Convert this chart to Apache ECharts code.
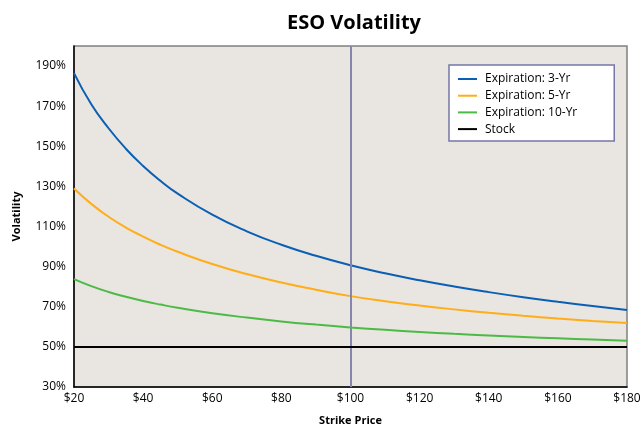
<!DOCTYPE html>
<html>
<head>
<meta charset="utf-8">
<script src="https://cdn.jsdelivr.net/npm/echarts@6/dist/echarts.min.js"></script>
<style>html,body{margin:0;padding:0;background:#fff}#c{width:644px;height:427px}</style>
</head>
<body>
<div id="c"></div>
<script>
var strikes = [20, 25, 30, 35, 40, 45, 50, 60, 70, 80, 90, 100, 110, 120, 130, 140, 150, 160, 170, 180];
var vol3 = [186.5, 171, 159, 148.8, 140.2, 132.8, 126.4, 115.9, 107.6, 100.9, 95.4, 90.7, 86.7, 83.2, 80.1, 77.3, 74.75, 72.45, 70.35, 68.4];
var vol5 = [129, 121.3, 114.9, 109.5, 105, 100.9, 97.4, 91.3, 86.3, 82.1, 78.5, 75.3, 72.8, 70.6, 68.7, 67.0, 65.5, 64.15, 62.95, 61.85];
var vol10 = [83.8, 80.3, 77.4, 75, 72.9, 71.1, 69.5, 66.8, 64.6, 62.7, 61.1, 59.7, 58.5, 57.45, 56.52, 55.69, 54.94, 54.26, 53.64, 53.06];
var stock = [50, 50, 50, 50, 50, 50, 50, 50, 50, 50, 50, 50, 50, 50, 50, 50, 50, 50, 50, 50];
var seriesNames = ['Expiration: 3-Yr', 'Expiration: 5-Yr', 'Expiration: 10-Yr', 'Stock'];
var seriesColors = ['#0a5fb4', '#ffad18', '#4cbb45', '#000000'];
var markStrike = 100;

function pairs(v) { return strikes.map(function (s, i) { return [s, v[i]]; }); }
var values = [vol3, vol5, vol10, stock];
var font = '"Open Sans", "Noto Sans", sans-serif';

var series = values.map(function (v, i) {
  var s = {
    name: seriesNames[i], type: 'line', data: pairs(v), smooth: i < 3 ? 0.5 : false,
    symbol: 'none', lineStyle: { color: seriesColors[i], width: 2 },
    itemStyle: { color: seriesColors[i] }, z: 3 + i
  };
  if (i === 0) {
    s.markLine = {
      silent: true, symbol: 'none', label: { show: false },
      lineStyle: { color: '#8585ad', width: 2, type: 'solid' },
      data: [{ xAxis: markStrike }]
    };
  }
  return s;
});

var chart = echarts.init(document.getElementById('c'));
chart.setOption({
  animation: false,
  backgroundColor: '#ffffff',
  title: {
    text: 'ESO Volatility', left: 282, top: 8,
    textStyle: { fontFamily: font, fontWeight: 'bold', fontSize: 20, color: '#000' }
  },
  grid: {
    left: 74, right: 17, top: 46, bottom: 40, outerBoundsMode: 'none', containLabel: false,
    show: true, backgroundColor: '#e9e5e0', borderColor: '#808080', borderWidth: 1.5
  },
  legend: {
    orient: 'vertical', left: 449, top: 65,
    padding: [8, 37, 6, 9], itemGap: 4.7,
    backgroundColor: '#ffffff', borderColor: '#7676a8', borderWidth: 1.5,
    icon: 'rect', itemWidth: 19, itemHeight: 2,
    textStyle: { fontFamily: font, fontSize: 12, color: '#000', padding: [0, 0, 0, 3] },
    data: seriesNames
  },
  xAxis: {
    type: 'value', min: 20, max: 180, interval: 20,
    name: 'Strike Price', nameLocation: 'middle', nameGap: 28,
    nameTextStyle: { fontFamily: font, fontWeight: 'bold', fontSize: 11, color: '#000' },
    axisLine: { lineStyle: { color: '#000', width: 1.5 } },
    axisTick: { show: false }, splitLine: { show: false },
    axisLabel: { fontFamily: font, fontSize: 12, color: '#000', margin: 6,
      formatter: function (v) { return '$' + v; } }
  },
  yAxis: {
    type: 'value', min: 30, max: 200, interval: 20,
    name: 'Volatility', nameLocation: 'middle', nameGap: 52, nameRotate: 90,
    nameTextStyle: { fontFamily: font, fontWeight: 'bold', fontSize: 11, color: '#000' },
    axisLine: { show: true, lineStyle: { color: '#000', width: 1.5 } },
    axisTick: { show: false }, splitLine: { show: false },
    axisLabel: { fontFamily: font, fontSize: 12, color: '#000', margin: 8, showMaxLabel: false,
      formatter: function (v) { return (v - 30) % 20 === 0 ? v + '%' : ''; } }
  },
  series: series
});
</script>
</body>
</html>
